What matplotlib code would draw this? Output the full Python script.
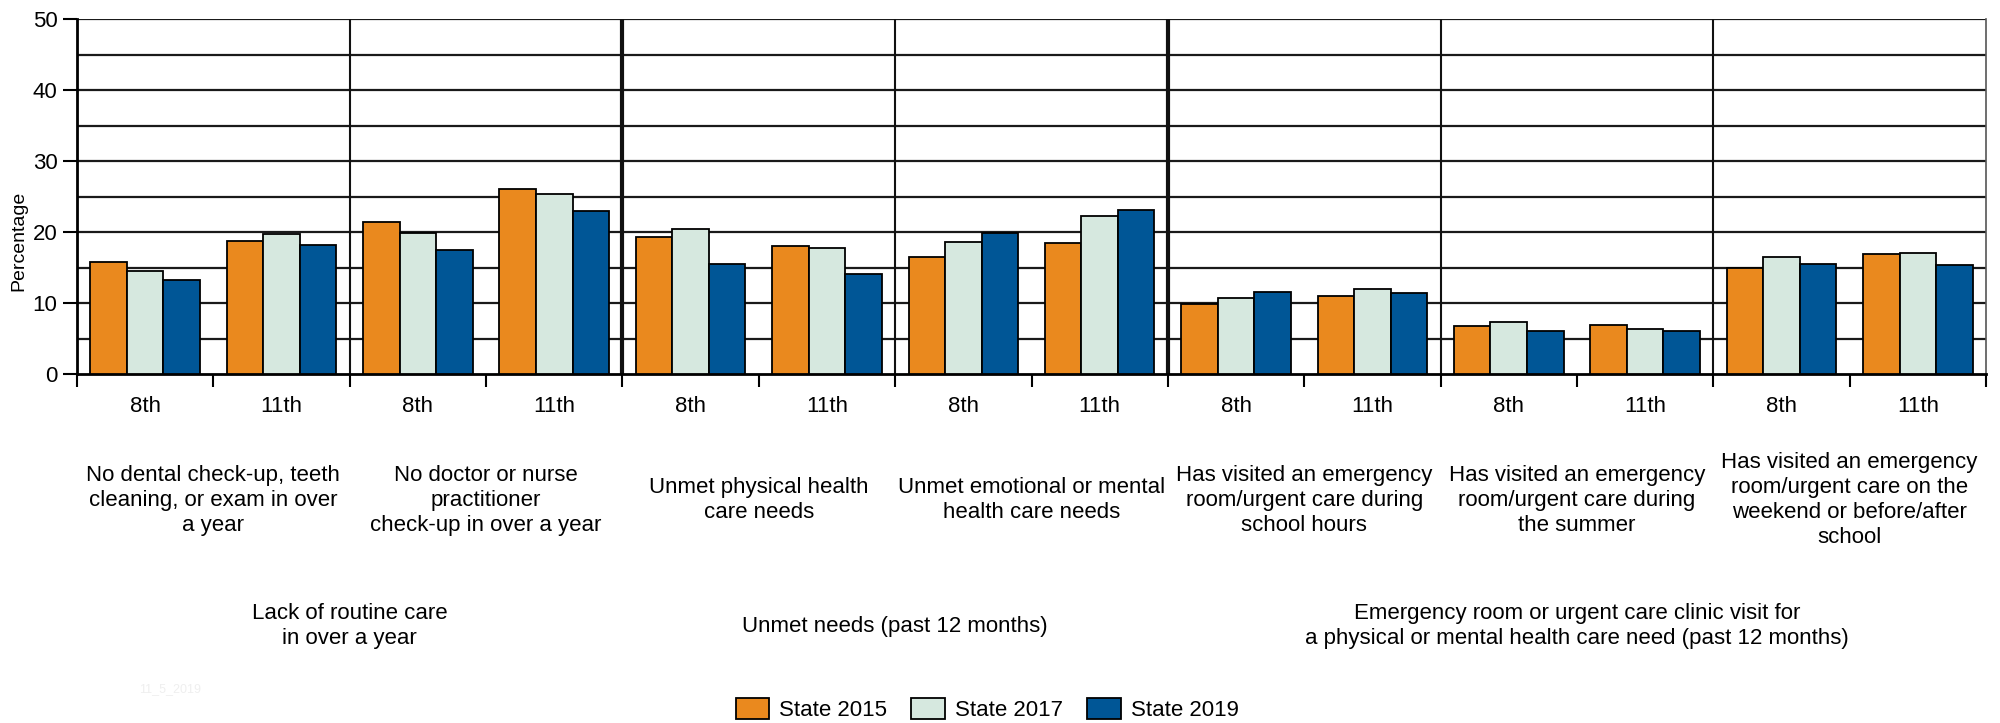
import matplotlib
matplotlib.use("Agg")
import matplotlib.pyplot as plt
import matplotlib.transforms as mtransforms
from matplotlib.patches import Patch
import numpy as np

plt.rcParams['font.family'] = ['Liberation Sans Narrow', 'Liberation Sans', 'DejaVu Sans']

# ---- data ----
grades = ["8th", "11th"]
topics = [
    "No dental check-up, teeth\ncleaning, or exam in over\na year",
    "No doctor or nurse\npractitioner\ncheck-up in over a year",
    "Unmet physical health\ncare needs",
    "Unmet emotional or mental\nhealth care needs",
    "Has visited an emergency\nroom/urgent care during\nschool hours",
    "Has visited an emergency\nroom/urgent care during\nthe summer",
    "Has visited an emergency\nroom/urgent care on the\nweekend or before/after\nschool",
]
sections = [
    "Lack of routine care\nin over a year",
    "Unmet needs (past 12 months)",
    "Emergency room or urgent care clinic visit for\na physical or mental health care need (past 12 months)",
]
section_sizes = [2, 2, 3]  # topics per section
series_names = ["State 2015", "State 2017", "State 2019"]
state_2015 = [15.8, 18.8, 21.4, 26.0, 19.3, 18.0, 16.5, 18.4, 9.8, 11.0, 6.7, 6.9, 15.0, 16.9]
state_2017 = [14.5, 19.7, 19.9, 25.3, 20.4, 17.7, 18.6, 22.3, 10.7, 12.0, 7.3, 6.4, 16.5, 17.1]
state_2019 = [13.2, 18.2, 17.5, 23.0, 15.5, 14.1, 19.9, 23.1, 11.6, 11.4, 6.0, 6.0, 15.5, 15.4]
colors = ["#EA891E", "#D6E8DF", "#005696"]

# ---- figure ----
fig = plt.figure(figsize=(20, 7.23), dpi=100)
ax = fig.add_axes([0.0385, 0.4827, 0.9545, 0.491])

n = len(state_2015)
x = np.arange(n)
bw = 0.268
for i, (vals, c, name) in enumerate(zip([state_2015, state_2017, state_2019], colors, series_names)):
    ax.bar(x + (i - 1) * bw, vals, width=bw, color=c, edgecolor="black",
           linewidth=1.3, zorder=3, label=name)

ax.set_xlim(-0.5, n - 0.5)
ax.set_ylim(0, 50)

# y grid every 5
for yv in np.arange(5, 51, 5):
    ax.axhline(yv, color="#1a1a1a", linewidth=1.6, zorder=1)

# vertical topic / section separators
sec_bounds = np.cumsum(section_sizes)[:-1] * 2 - 0.5
for k in range(1, len(topics)):
    xb = 2 * k - 0.5
    lw = 3.0 if xb in sec_bounds else 1.5
    ax.axvline(xb, color="#111111", linewidth=lw, zorder=2)

# spines
for s in ["top"]:
    ax.spines[s].set_visible(False)
ax.spines["left"].set_linewidth(2.0)
ax.spines["bottom"].set_linewidth(2.0)
ax.spines["right"].set_linewidth(1.2)
ax.spines["right"].set_color("#555555")

# y ticks
ax.set_yticks(np.arange(0, 51, 10))
ax.tick_params(axis="y", length=10, width=1.5, labelsize=16, pad=4)

# x ticks: boundaries (major, no label), centers (minor, labels)
ax.set_xticks(np.arange(-0.5, n, 1.0))
ax.set_xticklabels([])
ax.tick_params(axis="x", which="major", length=9, width=1.5)
ax.set_xticks(x, minor=True)
ax.set_xticklabels([grades[i % 2] for i in range(n)], minor=True)
ax.tick_params(axis="x", which="minor", length=0, labelsize=16, pad=16)

# topic labels & section labels
trans = mtransforms.blended_transform_factory(ax.transData, fig.transFigure)
for k, t in enumerate(topics):
    ax.text(2 * k + 0.5, 0.3084, t, transform=trans, ha="center", va="center",
            fontsize=16, linespacing=1.25)
start = 0
for s, sz in zip(sections, section_sizes):
    cx = (2 * start - 0.5 + 2 * (start + sz) - 0.5) / 2
    ax.text(cx, 0.134, s, transform=trans, ha="center", va="center",
            fontsize=16, linespacing=1.25)
    start += sz

fig.text(0.0095, 0.667, "Percentage", rotation=90, ha="center", va="center", fontsize=14)
fig.text(0.085, 0.047, "11_5_2019", ha="center", va="center", fontsize=9, color="#EFEFEF")

handles = [Patch(facecolor=c, edgecolor="black", linewidth=1.3) for c in colors]
fig.legend(handles, series_names, loc="center", bbox_to_anchor=(0.4935, 0.019), ncol=3,
           frameon=False, fontsize=16, handlelength=1.5, handleheight=1.1,
           handletextpad=0.45, columnspacing=1.1)

fig.savefig("out.png", dpi=100)
